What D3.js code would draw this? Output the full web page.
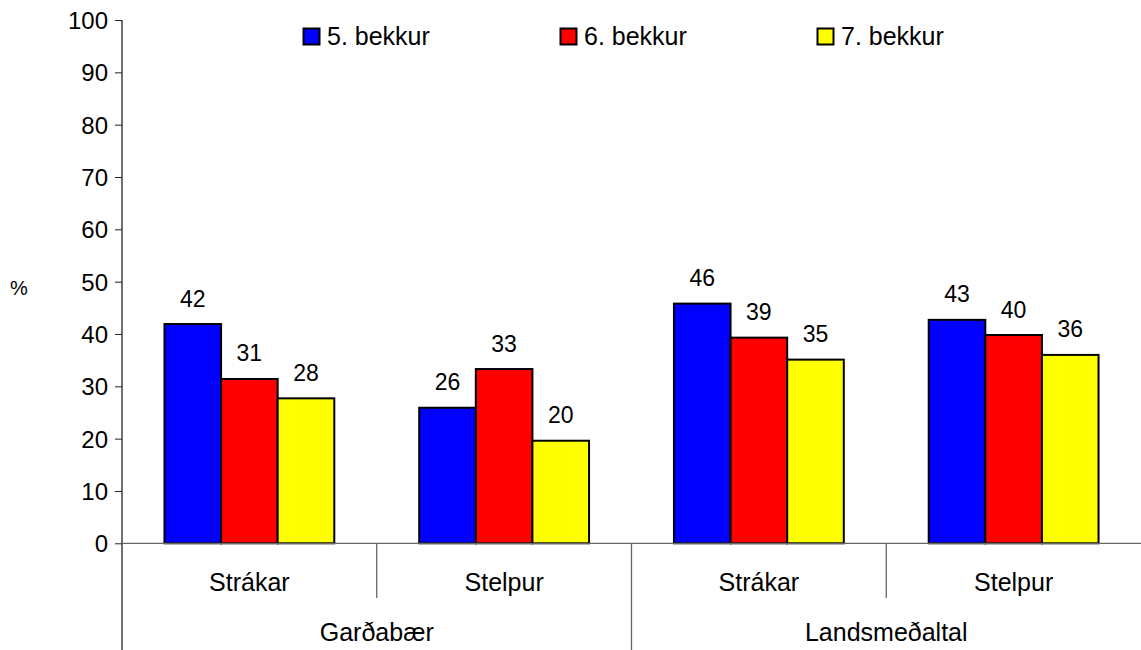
<!DOCTYPE html>
<html>
<head>
<meta charset="utf-8">
<script src="https://cdn.jsdelivr.net/npm/d3@7"></script>
<style>
  body { margin: 0; background: #fff; }
  text { font-family: "Liberation Sans", Arial, sans-serif; fill: #000; }
</style>
</head>
<body>
<div class="chartHolder"></div>
<script>
const regions = ["Garðabær", "Landsmeðaltal"];
const genders = ["Strákar", "Stelpur"];
const grades = ["5. bekkur", "6. bekkur", "7. bekkur"];
const colors = ["#0000ff", "#ff0000", "#ffff00"];

// values per grade, order: Garðabær Strákar, Garðabær Stelpur, Landsm. Strákar, Landsm. Stelpur
const grade5 = [41.9, 25.9, 45.8, 42.7];
const grade6 = [31.4, 33.3, 39.3, 39.8];
const grade7 = [27.7, 19.6, 35.1, 36.0];
const yTicks = [0, 10, 20, 30, 40, 50, 60, 70, 80, 90, 100];

const series = [grade5, grade6, grade7];
const groups = [];
regions.forEach((r) => genders.forEach((g) => groups.push(r + "|" + g)));

const data = [];
groups.forEach((grp, i) => {
  grades.forEach((gr, j) => {
    data.push({ group: grp, grade: gr, value: series[j][i], color: colors[j] });
  });
});

const width = 1141;
const height = 650;
const plotLeft = 122;
const plotRight = 1141;
const plotTop = 20;
const plotBottom = 543.3;

const svg = d3
  .select(".chartHolder")
  .append("svg")
  .attr("width", width)
  .attr("height", height);

const yScale = d3.scaleLinear().domain([0, 100]).range([plotBottom, plotTop]);

const x0 = d3.scaleBand().domain(groups).range([plotLeft, plotRight]).padding(0);
const x1 = d3
  .scaleBand()
  .domain(grades)
  .range([0, x0.bandwidth()])
  .paddingInner(0)
  .paddingOuter(0.75);

// y axis
const yAxis = d3.axisLeft(yScale).tickValues(yTicks).tickSize(7).tickPadding(7);
const yg = svg
  .append("g")
  .attr("transform", `translate(${plotLeft}, 0)`)
  .call(yAxis);
yg.select(".domain").remove();
yg.selectAll("line").attr("stroke", "#222");
yg.selectAll("text")
  .style("font-size", "24px")
  .attr("dy", "0.35em");

svg
  .append("line")
  .attr("x1", plotLeft)
  .attr("x2", plotLeft)
  .attr("y1", plotTop)
  .attr("y2", height)
  .attr("stroke", "#222")
  .attr("stroke-width", 1.3);

svg
  .append("text")
  .attr("x", 10)
  .attr("y", 295)
  .style("font-size", "20px")
  .text("%");

// bars
svg
  .append("g")
  .selectAll("rect")
  .data(data)
  .enter()
  .append("rect")
  .attr("x", (d) => x0(d.group) + x1(d.grade))
  .attr("y", (d) => yScale(d.value))
  .attr("width", x1.bandwidth())
  .attr("height", (d) => plotBottom - yScale(d.value))
  .attr("fill", (d) => d.color)
  .attr("stroke", "#000")
  .attr("stroke-width", 2);

svg
  .append("g")
  .selectAll("text")
  .data(data)
  .enter()
  .append("text")
  .attr("x", (d) => x0(d.group) + x1(d.grade) + x1.bandwidth() / 2)
  .attr("y", (d) => yScale(d.value) - 17.5)
  .attr("text-anchor", "middle")
  .style("font-size", "23px")
  .text((d) => Math.round(d.value));

// x axis baseline
svg
  .append("line")
  .attr("x1", plotLeft)
  .attr("x2", plotRight)
  .attr("y1", plotBottom)
  .attr("y2", plotBottom)
  .attr("stroke", "#666")
  .attr("stroke-width", 1.3);

// separators between groups
groups.forEach((grp, i) => {
  if (i === 0) return;
  const x = x0(grp);
  const full = i % genders.length === 0;
  svg
    .append("line")
    .attr("x1", x)
    .attr("x2", x)
    .attr("y1", plotBottom)
    .attr("y2", full ? height : 598)
    .attr("stroke", "#666")
    .attr("stroke-width", 1.3);
});

// gender labels
svg
  .append("g")
  .selectAll("text")
  .data(groups)
  .enter()
  .append("text")
  .attr("x", (d) => x0(d) + x0.bandwidth() / 2)
  .attr("y", 591)
  .attr("text-anchor", "middle")
  .style("font-size", "25px")
  .text((d) => d.split("|")[1]);

// region labels
svg
  .append("g")
  .selectAll("text")
  .data(regions)
  .enter()
  .append("text")
  .attr("x", (d) => x0(d + "|" + genders[0]) + x0.bandwidth() * genders.length / 2)
  .attr("y", 641)
  .attr("text-anchor", "middle")
  .style("font-size", "25px")
  .text((d) => d);

// legend
const legend = svg
  .append("g")
  .selectAll("g")
  .data(grades)
  .enter()
  .append("g")
  .attr("transform", (d, i) => `translate(${303 + i * 257}, 28)`);

legend
  .append("rect")
  .attr("x", 0.5)
  .attr("y", 0.5)
  .attr("width", 16)
  .attr("height", 16)
  .attr("fill", (d, i) => colors[i])
  .attr("stroke", "#000")
  .attr("stroke-width", 2);

legend
  .append("text")
  .attr("x", 24)
  .attr("y", 17.3)
  .style("font-size", "25px")
  .text((d) => d);
</script>
</body>
</html>
